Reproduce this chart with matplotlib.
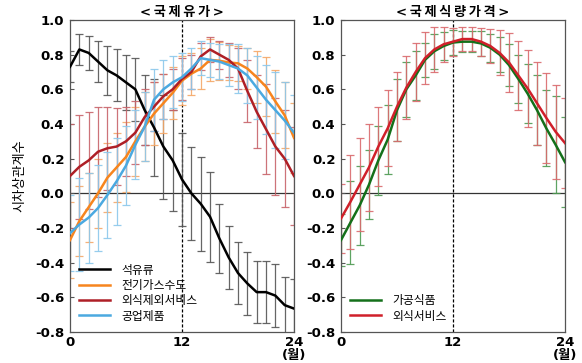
import numpy as np
import matplotlib
matplotlib.use("Agg")
import matplotlib.pyplot as plt

plt.rcParams['font.family'] = ['DejaVu Sans', 'Noto Sans CJK KR']

months = np.arange(25)
yticks = [-0.8, -0.6, -0.4, -0.2, 0.0, 0.2, 0.4, 0.6, 0.8, 1.0]
xticks = [0, 12, 24]
xticklabels = ['0', '12', '24\n(월)']

# 국제유가 충격에 대한 시차상관계수
oil = [0.73, 0.83, 0.81, 0.76, 0.71, 0.68, 0.64, 0.60, 0.48, 0.38, 0.27, 0.19, 0.08,
       0.0, -0.06, -0.135, -0.26, -0.37, -0.46, -0.52, -0.57, -0.57, -0.59, -0.645, -0.665]
oil_err = [0.09, 0.09, 0.1, 0.12, 0.14, 0.15, 0.16, 0.18, 0.2, 0.28, 0.3, 0.29, 0.27,
           0.27, 0.27, 0.26, 0.2, 0.18, 0.18, 0.18, 0.18, 0.18, 0.18, 0.16, 0.17]
util = [-0.27, -0.16, -0.08, 0.0, 0.09, 0.15, 0.21, 0.30, 0.385, 0.46, 0.52, 0.58, 0.65,
        0.69, 0.72, 0.77, 0.765, 0.755, 0.75, 0.72, 0.67, 0.615, 0.53, 0.45, 0.32]
util_err = [0.22, 0.2, 0.2, 0.2, 0.2, 0.2, 0.2, 0.2, 0.2, 0.18, 0.17, 0.15, 0.14,
            0.12, 0.12, 0.12, 0.11, 0.1, 0.1, 0.12, 0.15, 0.17, 0.18, 0.19, 0.2]
serv = [0.10, 0.153, 0.19, 0.24, 0.26, 0.27, 0.30, 0.35, 0.44, 0.50, 0.56, 0.60, 0.66,
        0.70, 0.79, 0.83, 0.80, 0.77, 0.72, 0.59, 0.47, 0.37, 0.27, 0.20, 0.10]
serv_err = [0.3, 0.3, 0.28, 0.26, 0.24, 0.22, 0.2, 0.18, 0.16, 0.14, 0.13, 0.12, 0.12,
            0.1, 0.08, 0.07, 0.08, 0.1, 0.12, 0.18, 0.21, 0.26, 0.28, 0.28, 0.28]
ind = [-0.23, -0.18, -0.14, -0.085, -0.01, 0.07, 0.16, 0.28, 0.385, 0.54, 0.60, 0.64, 0.67,
       0.72, 0.78, 0.77, 0.76, 0.74, 0.72, 0.68, 0.61, 0.54, 0.48, 0.42, 0.35]
ind_err = [0.22, 0.27, 0.26, 0.25, 0.25, 0.25, 0.23, 0.2, 0.2, 0.18, 0.17, 0.15, 0.14,
           0.12, 0.1, 0.1, 0.1, 0.12, 0.14, 0.16, 0.18, 0.2, 0.22, 0.22, 0.22]

# 국제식량가격 충격에 대한 시차상관계수
food = [-0.27, -0.17, -0.07, 0.05, 0.19, 0.31, 0.48, 0.60, 0.68, 0.77, 0.82, 0.85, 0.87,
        0.875, 0.875, 0.865, 0.84, 0.80, 0.74, 0.66, 0.575, 0.48, 0.375, 0.28, 0.18]
food_err = [0.15, 0.24, 0.23, 0.2, 0.2, 0.2, 0.18, 0.16, 0.14, 0.1, 0.1, 0.08, 0.07,
            0.06, 0.06, 0.07, 0.08, 0.1, 0.12, 0.14, 0.17, 0.2, 0.22, 0.28, 0.26]
dine = [-0.145, -0.05, 0.05, 0.15, 0.27, 0.375, 0.50, 0.61, 0.70, 0.78, 0.83, 0.86, 0.875,
        0.89, 0.89, 0.875, 0.85, 0.81, 0.755, 0.68, 0.605, 0.52, 0.435, 0.355, 0.29]
dine_err = [0.2, 0.27, 0.27, 0.25, 0.23, 0.22, 0.2, 0.18, 0.17, 0.15, 0.13, 0.1, 0.08,
            0.07, 0.07, 0.08, 0.1, 0.13, 0.17, 0.2, 0.22, 0.24, 0.26, 0.27, 0.26]

left_series = [
    ("석유류", oil, oil_err, "black", "#555555"),
    ("전기가스수도", util, util_err, "#F7851E", "#F5A868"),
    ("외식제외서비스", serv, serv_err, "#AE1F26", "#C8646A"),
    ("공업제품", ind, ind_err, "#4BA9E0", "#8CC8EC"),
]
right_series = [
    ("가공식품", food, food_err, "#14701A", "#4E9A52"),
    ("외식서비스", dine, dine_err, "#D0202A", "#DA6A6E"),
]

fig = plt.figure(figsize=(5.82, 3.63), dpi=100)
ax1 = fig.add_axes([0.1203, 0.0854, 0.3849, 0.8595])
ax2 = fig.add_axes([0.5859, 0.0854, 0.3849, 0.8595])


def spaced(s):
    # 제목 글자 사이를 조금 벌림
    return '\u2009'.join(s)


def draw_panel(ax, series, title):
    for name, vals, err, col, ecol in series:
        ax.errorbar(months, vals, yerr=err, fmt='none', ecolor=ecol,
                    elinewidth=0.9, capsize=3, capthick=0.9, alpha=0.9, zorder=2)
    for name, vals, err, col, ecol in series:
        ax.plot(months, vals, color=col, lw=1.8, label=name, zorder=3)
    ax.axhline(0, color='#333333', lw=0.9, zorder=1)
    ax.axvline(12, color='black', lw=0.9, ls=(0, (2.5, 1.5)), zorder=1)
    ax.set_xlim(0, 24)
    ax.set_ylim(-0.8, 1.0)
    ax.set_xticks(xticks)
    ax.set_xticklabels(xticklabels, linespacing=1.0)
    ax.set_yticks(yticks)
    ax.set_yticklabels([f'{v:.1f}' for v in yticks])
    ax.tick_params(axis='x', length=0, pad=3, labelsize=9.5)
    ax.tick_params(axis='y', direction='in', length=3, width=0.8, color='#555555',
                   pad=4, labelsize=9.5)
    for lab in ax.get_xticklabels() + ax.get_yticklabels():
        lab.set_fontweight('bold')
    for sp in ax.spines.values():
        sp.set_color('#555555')
        sp.set_linewidth(0.9)
    ax.set_title(spaced(title), fontsize=9.5, fontweight='bold', pad=3)
    ax.legend(loc='lower left', bbox_to_anchor=(0.02, 0.015), frameon=False,
              fontsize=8.5, handlelength=2.6, handletextpad=1.0, labelspacing=0.2,
              borderaxespad=0.0)


draw_panel(ax1, left_series, '<국제유가>')
draw_panel(ax2, right_series, '<국제식량가격>')
ax1.set_ylabel('시차상관계수', fontsize=9.5, fontweight='medium', labelpad=6)

fig.savefig('out.png', dpi=100)
